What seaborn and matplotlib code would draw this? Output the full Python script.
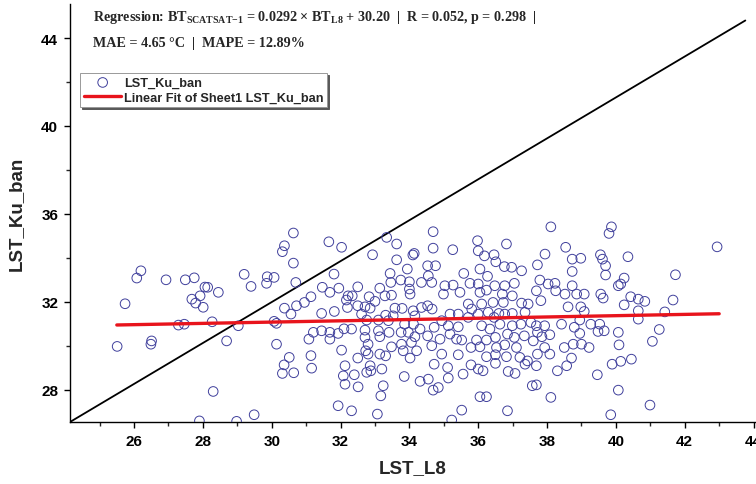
import matplotlib
matplotlib.use("Agg")
import matplotlib.pyplot as plt
from matplotlib.ticker import MultipleLocator
import seaborn as sns
import pandas as pd

# Valores (LST_L8 no eixo x, LST_Ku_ban no eixo y)
lst_l8 = [
    26.20, 26.08, 26.93, 27.49, 27.75, 25.74, 25.51, 26.51, 26.49, 27.29,
    27.46, 27.68, 27.79, 27.92, 28.01, 28.06, 27.90,
    30.63, 30.37, 30.31, 30.63, 29.20, 29.87, 30.07, 29.85, 29.40, 30.70,
    28.45, 28.14, 30.37, 30.56, 30.72, 30.95, 31.14, 28.27, 29.03, 30.07,
    30.14, 28.69, 30.14, 31.08, 31.21, 30.51, 30.36, 30.31, 30.64, 31.14,
    31.16, 28.30, 29.49, 28.98,
    31.66, 32.03, 33.34, 33.63, 32.93, 33.63, 34.10, 34.14, 33.94, 31.81,
    33.44, 33.75, 34.00, 34.35, 31.47, 31.69, 31.95, 32.50, 33.14, 33.46,
    34.00, 34.02, 32.22, 32.34, 32.83, 33.00, 33.29, 33.48, 32.17, 32.50,
    32.71, 32.86, 33.58, 33.79, 34.11, 34.35, 32.20, 31.45, 31.82, 32.61,
    33.31, 33.53, 34.16, 32.76, 33.10, 33.39, 33.86, 34.12, 32.10, 32.32,
    31.45, 31.69, 31.93, 32.71, 33.10, 33.41, 33.76, 33.97, 34.31, 31.69,
    32.71, 33.14, 34.16, 32.80, 33.77, 34.06, 32.03, 32.73, 32.80, 33.14,
    33.31, 33.48, 33.82, 34.02, 34.21, 32.50, 32.13, 32.86, 33.20, 32.08,
    32.40, 32.76, 32.88, 33.85, 34.31, 32.13, 32.51, 33.24, 33.17, 31.93,
    32.32, 33.07,
    34.69, 35.98, 36.82, 34.69, 35.26, 36.00, 36.18, 36.46, 36.51, 34.53,
    34.76, 35.58, 36.05, 36.27, 36.76, 36.97, 37.26, 34.55, 34.65, 35.03,
    35.27, 35.47, 35.76, 36.00, 36.24, 36.48, 36.77, 37.05, 34.99, 36.05,
    36.70, 36.99, 37.26, 37.45, 35.71, 36.10, 36.43, 36.73, 34.53, 34.66,
    35.18, 35.42, 35.81, 36.00, 36.29, 36.60, 36.99, 37.36, 34.94, 35.71,
    36.46, 36.77, 35.13, 35.42, 36.10, 36.34, 36.63, 36.99, 37.24, 37.53,
    34.72, 34.53, 34.89, 35.18, 35.52, 35.95, 36.24, 36.50, 36.85, 37.05,
    37.34, 37.60, 34.65, 35.37, 35.79, 36.05, 36.53, 36.77, 37.11, 34.94,
    35.42, 36.24, 36.50, 36.82, 37.21, 37.43, 34.72, 35.11, 35.79, 36.00,
    36.14, 36.50, 36.87, 37.07, 37.36, 34.55, 35.13, 35.56, 34.84, 34.69,
    37.57, 36.05, 36.24, 35.52, 36.85, 35.23,
    38.11, 39.87, 39.80, 38.54, 37.94, 38.73, 38.98, 39.55, 39.61, 39.70,
    40.35, 37.72, 38.73, 39.70, 37.79, 38.03, 38.23, 38.73, 38.25, 38.52,
    38.86, 39.08, 39.56, 39.63, 40.14, 40.24, 40.07, 37.69, 37.82, 38.61,
    38.98, 39.08, 40.43, 40.65, 40.24, 40.65, 40.65, 38.42, 38.79, 38.95,
    39.27, 39.53, 37.69, 37.93, 39.66, 40.07, 37.72, 37.85, 38.08, 38.95,
    39.48, 37.93, 38.50, 38.76, 39.00, 39.22, 40.09, 37.72, 38.08, 38.71,
    39.89, 40.14, 40.45, 37.69, 38.30, 38.57, 39.46, 37.69, 40.07, 38.11,
    39.85,
    42.94, 41.73, 41.66, 41.42, 40.84, 41.26, 41.06, 40.99,
]
lst_ku = [
    33.41, 33.08, 33.00, 33.00, 33.09, 31.91, 29.97, 30.22, 30.07, 30.94,
    30.98, 32.12, 31.94, 32.27, 31.75, 32.67, 26.58,
    35.13, 34.55, 34.28, 33.76, 33.25, 33.14, 33.11, 32.84, 32.70, 32.88,
    32.43, 32.66, 31.71, 31.44, 31.82, 31.97, 32.23, 31.09, 30.91, 31.11,
    31.02, 30.22, 30.07, 30.30, 30.61, 29.47, 29.13, 28.74, 28.77, 29.55,
    28.98, 27.92, 26.86, 26.56,
    34.73, 34.48, 34.93, 34.63, 34.14, 33.91, 34.13, 34.20, 33.49, 33.26,
    33.29, 32.99, 32.91, 32.88, 32.66, 32.43, 32.62, 32.68, 32.62, 32.88,
    32.58, 32.35, 32.27, 32.27, 32.23, 32.02, 32.27, 32.30, 32.08, 31.82,
    31.77, 31.71, 31.71, 31.70, 31.59, 31.74, 31.74, 31.47, 31.56, 31.44,
    31.39, 31.36, 31.36, 31.17, 31.17, 31.14, 30.98, 30.98, 30.77, 30.76,
    30.68, 30.61, 30.56, 30.71, 30.68, 30.61, 30.61, 30.61, 30.76, 30.30,
    30.38, 30.41, 30.41, 30.07, 30.07, 30.15, 29.80, 29.77, 29.62, 29.62,
    29.54, 29.95, 29.77, 29.44, 29.77, 29.44, 29.09, 29.09, 28.94, 28.63,
    28.68, 28.79, 28.86, 28.60, 28.38, 28.25, 28.13, 28.18, 27.72, 27.27,
    27.04, 26.89,
    35.19, 34.78, 34.63, 34.44, 34.37, 34.32, 34.09, 34.14, 33.82, 33.64,
    33.64, 33.29, 33.49, 33.16, 33.60, 33.57, 33.41, 33.18, 32.88, 32.73,
    32.76, 32.43, 32.84, 32.81, 32.53, 32.73, 32.73, 32.84, 32.35, 32.43,
    32.35, 32.27, 31.94, 31.90, 31.90, 31.90, 31.97, 31.97, 31.82, 31.67,
    31.44, 31.44, 31.67, 31.44, 31.52, 31.47, 31.47, 31.52, 31.14, 31.29,
    31.29, 31.44, 30.91, 30.86, 30.91, 30.76, 30.98, 30.91, 30.98, 31.06,
    30.84, 30.45, 30.30, 30.53, 30.26, 30.26, 30.26, 30.38, 30.53, 30.38,
    30.45, 30.22, 30.00, 30.30, 29.92, 29.95, 29.92, 30.04, 29.92, 29.62,
    29.59, 29.50, 29.59, 29.50, 29.47, 29.31, 29.16, 29.01, 29.13, 28.94,
    28.86, 29.20, 28.83, 28.74, 29.16, 28.48, 28.53, 28.71, 28.10, 27.98,
    28.18, 27.68, 27.68, 27.07, 27.04, 26.62,
    35.41, 35.41, 35.11, 34.48, 34.17, 33.94, 33.98, 34.14, 33.94, 33.64,
    34.05, 33.68, 33.38, 33.22, 32.99, 32.81, 32.84, 32.73, 32.50, 32.35,
    32.35, 32.35, 32.35, 32.17, 32.81, 33.08, 32.73, 32.50, 32.05, 31.77,
    31.77, 31.56, 32.23, 32.12, 31.86, 31.59, 31.21, 30.98, 30.84, 31.17,
    30.98, 30.98, 30.91, 30.91, 30.68, 30.61, 30.61, 30.41, 30.50, 30.56,
    30.65, 29.92, 29.92, 30.07, 30.07, 29.92, 30.04, 29.62, 29.62, 29.44,
    29.16, 29.29, 29.39, 29.09, 28.86, 29.09, 28.68, 28.22, 27.98, 27.65,
    26.86,
    34.50, 33.23, 32.08, 31.54, 32.02, 30.74, 30.20, 27.30,
]

# Ajuste linear informado no gráfico
fit_slope = 0.0292
fit_intercept = 30.20
fit_x = [25.5, 43.0]

# Linha diagonal de referência
ref_x = [24.14, 43.76]
ref_y = [26.53, 44.80]

x_limits = [24.14, 44.07]
y_limits = [26.53, 45.55]
x_ticks = [26, 28, 30, 32, 34, 36, 38, 40, 42, 44]
y_ticks = [28, 32, 36, 40, 44]

stats_line1 = (r"Regression: BT$_{\mathrm{SCATSAT{-}1}}$ = 0.0292 × BT$_{\mathrm{L8}}$"
               r" + 30.20  |  R = 0.052, p = 0.298  |")
stats_line2 = "MAE = 4.65 °C  |  MAPE = 12.89%"


def make_plot():
    sns.set_style("ticks")
    plt.rcParams['font.family'] = ['Liberation Sans', 'DejaVu Sans']
    plt.rcParams['mathtext.fontset'] = 'custom'
    plt.rcParams['mathtext.rm'] = 'Liberation Serif:bold'
    plt.rcParams['mathtext.bf'] = 'Liberation Serif:bold'
    plt.rcParams['mathtext.it'] = 'Liberation Serif:bold:italic'

    df = pd.DataFrame({'LST_L8': lst_l8, 'LST_Ku_ban': lst_ku})
    fit_df = pd.DataFrame({'x': fit_x,
                           'y': [fit_slope * v + fit_intercept for v in fit_x]})
    ref_df = pd.DataFrame({'x': ref_x, 'y': ref_y})

    fig = plt.figure(figsize=(7.56, 4.85), dpi=100)
    ax = fig.add_axes([70 / 756, 62 / 485, 686 / 756, 418 / 485])

    # Linha de referência e pontos
    sns.lineplot(data=ref_df, x='x', y='y', color='black', linewidth=1.3,
                 sort=False, ax=ax, label='_nolegend_')
    sns.scatterplot(data=df, x='LST_L8', y='LST_Ku_ban', ax=ax, marker='o',
                    s=48, facecolor='none', edgecolor='#40409c',
                    linewidth=0.7, label='LST_Ku_ban', zorder=3)
    ax.collections[0].set_facecolor('none')
    sns.lineplot(data=fit_df, x='x', y='y', color='#e8141c', linewidth=2.4,
                 sort=False, ax=ax, label='Linear Fit of Sheet1 LST_Ku_ban',
                 zorder=4)

    ax.set_xlim(x_limits)
    ax.set_ylim(y_limits)
    ax.set_xticks(x_ticks)
    ax.set_yticks(y_ticks)
    ax.xaxis.set_minor_locator(MultipleLocator(1))
    ax.yaxis.set_minor_locator(MultipleLocator(2))
    ax.tick_params(which='major', direction='out', length=4.5, width=1,
                   labelsize=11, colors='black', pad=4)
    ax.tick_params(which='minor', direction='out', length=3, width=1)
    for lab in ax.get_xticklabels() + ax.get_yticklabels():
        lab.set_fontweight('bold')

    for side in ['top', 'right']:
        ax.spines[side].set_visible(False)
    for side in ['left', 'bottom']:
        ax.spines[side].set_color('black')
        ax.spines[side].set_linewidth(1.0)

    ax.set_xlabel('LST_L8', fontsize=13.5, fontweight='bold', labelpad=8)
    ax.set_ylabel('LST_Ku_ban', fontsize=13.5, fontweight='bold', labelpad=12)

    handles, labels = ax.get_legend_handles_labels()
    leg = ax.legend(handles, labels, loc='upper left',
                    bbox_to_anchor=(0.015, 0.835), frameon=True,
                    fancybox=False, framealpha=1, edgecolor='0.6',
                    prop={'weight': 'bold', 'size': 9.2},
                    handlelength=2.9, borderpad=0.3, labelspacing=0.22,
                    handletextpad=0.2, borderaxespad=0.0,
                    shadow={'ox': 1.2, 'oy': -1.2, 'color': '0.35',
                            'alpha': 1})
    leg.get_frame().set_linewidth(0.7)

    # Textos de estatística no topo
    fig.text(93 / 756, 1 - 18 / 485, stats_line1, family='Liberation Serif',
             fontweight='bold', fontsize=10.2, va='center', ha='left')
    fig.text(93 / 756, 1 - 43 / 485, stats_line2, family='Liberation Serif',
             fontweight='bold', fontsize=10.2, va='center', ha='left')

    fig.savefig('out.png', dpi=100)


def main():
    make_plot()


if __name__ == "__main__":
    main()
